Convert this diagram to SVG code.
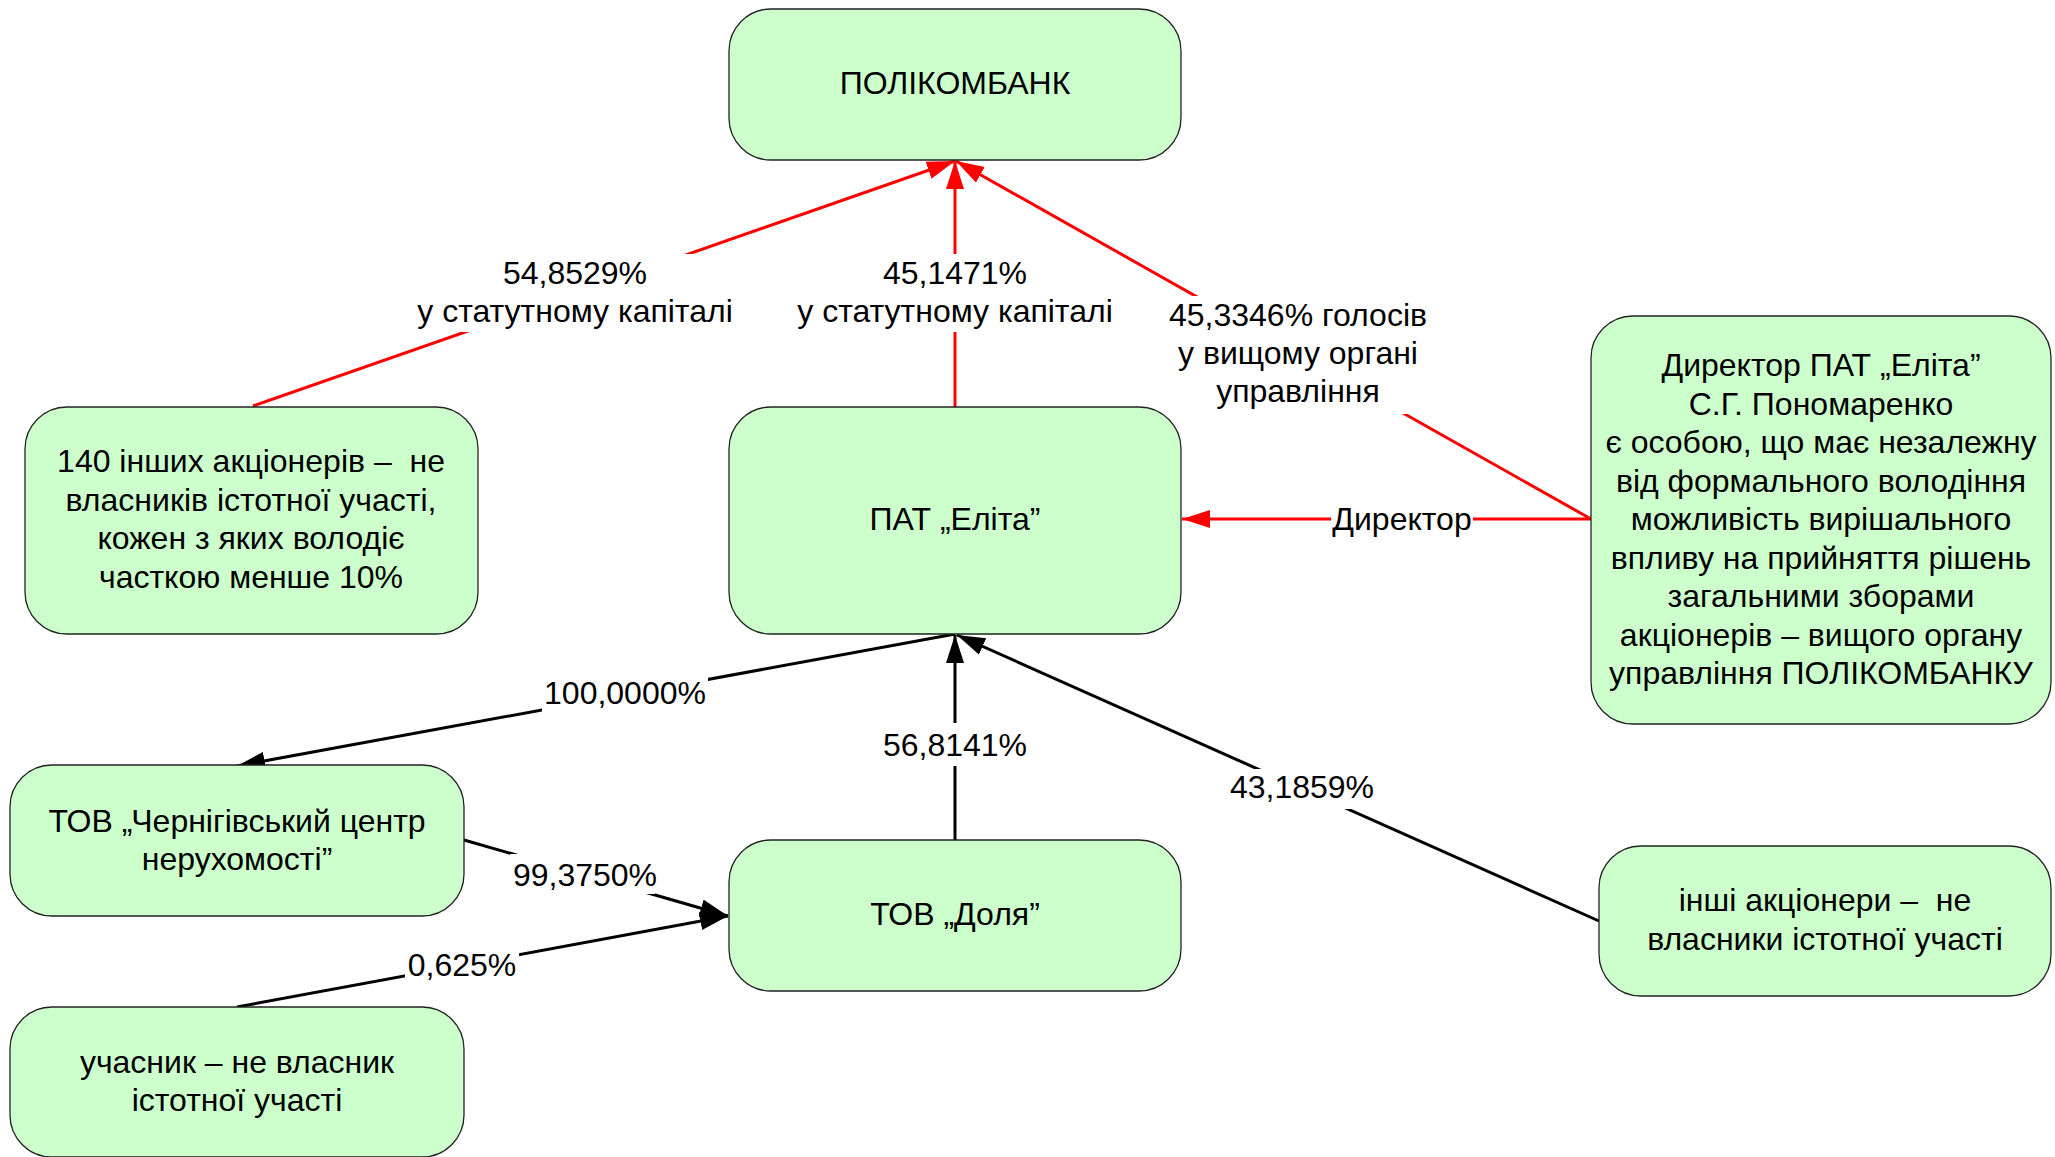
<svg xmlns="http://www.w3.org/2000/svg" width="2055" height="1157" viewBox="0 0 2055 1157">
<style>
.box{fill:#CCFFCC;stroke:#222;stroke-width:1.3}
text{font-family:"Liberation Sans",Arial,sans-serif;font-size:32px;fill:#000;text-anchor:middle;white-space:pre}
.red{stroke:#FF0000;stroke-width:3;fill:none}
.blk{stroke:#000;stroke-width:3;fill:none}
.lbg{fill:#fff}
</style>
<defs>
<marker id="ar" markerUnits="userSpaceOnUse" markerWidth="30" markerHeight="20" refX="28" refY="9" orient="auto" viewBox="0 0 30 20"><path d="M0,0 L28,9 L0,18 z" fill="#FF0000"/></marker>
<marker id="ab" markerUnits="userSpaceOnUse" markerWidth="30" markerHeight="20" refX="28" refY="9" orient="auto" viewBox="0 0 30 20"><path d="M0,0 L28,9 L0,18 z" fill="#000"/></marker>
</defs>
<rect width="2055" height="1157" fill="#fff"/>
<g id="connectors">
<line class="red" x1="253" y1="406" x2="955" y2="161" marker-end="url(#ar)"/>
<line class="red" x1="955" y1="407" x2="955" y2="161" marker-end="url(#ar)"/>
<line class="red" x1="1591" y1="519" x2="956" y2="161" marker-end="url(#ar)"/>
<line class="red" x1="1591" y1="519" x2="1182" y2="519" marker-end="url(#ar)"/>
<line class="blk" x1="955" y1="634" x2="237" y2="766" marker-end="url(#ab)"/>
<line class="blk" x1="955" y1="840" x2="955" y2="635" marker-end="url(#ab)"/>
<line class="blk" x1="1599" y1="921" x2="957" y2="635" marker-end="url(#ab)"/>
<line class="blk" x1="464" y1="840" x2="728" y2="916" marker-end="url(#ab)"/>
<line class="blk" x1="237" y1="1007" x2="728" y2="916" marker-end="url(#ab)"/>
</g>
<g id="node-polikombank"><rect class="box" x="729" y="9" width="452" height="151" rx="42"/><text x="955" y="94">ПОЛІКОМБАНК</text></g>
<g id="node-elita"><rect class="box" x="729" y="407" width="452" height="227" rx="42"/><text x="955" y="530">ПАТ „Еліта”</text></g>
<g id="node-140"><rect class="box" x="25" y="407" width="453" height="227" rx="42"/>
<text x="251" y="472">140 інших акціонерів –  не</text>
<text x="251" y="510.5">власників істотної участі,</text>
<text x="251" y="549">кожен з яких володіє</text>
<text x="251" y="588">часткою менше 10%</text></g>
<g id="node-director"><rect class="box" x="1591" y="316" width="460" height="408" rx="42"/>
<text x="1821" y="376">Директор ПАТ „Еліта”</text>
<text x="1821" y="414.5">С.Г. Пономаренко</text>
<text x="1821" y="453">є особою, що має незалежну</text>
<text x="1821" y="491.5">від формального володіння</text>
<text x="1821" y="530">можливість вирішального</text>
<text x="1821" y="568.5">впливу на прийняття рішень</text>
<text x="1821" y="607">загальними зборами</text>
<text x="1821" y="645.5">акціонерів – вищого органу</text>
<text x="1821" y="684">управління ПОЛІКОМБАНКУ</text></g>
<g id="node-chernihiv"><rect class="box" x="10" y="765" width="454" height="151" rx="42"/>
<text x="237" y="832">ТОВ „Чернігівський центр</text>
<text x="237" y="870">нерухомості”</text></g>
<g id="node-dolya"><rect class="box" x="729" y="840" width="452" height="151" rx="42"/><text x="955" y="925">ТОВ „Доля”</text></g>
<g id="node-uchasnyk"><rect class="box" x="10" y="1007" width="454" height="150" rx="42"/>
<text x="237" y="1073">учасник – не власник</text>
<text x="237" y="1111">істотної участі</text></g>
<g id="node-inshi"><rect class="box" x="1599" y="846" width="452" height="150" rx="42"/>
<text x="1825" y="911">інші акціонери –  не</text>
<text x="1825" y="950">власники істотної участі</text></g>
<g id="labels">
<rect class="lbg" x="414" y="254" width="322" height="78"/>
<text x="575" y="284">54,8529%</text><text x="575" y="322">у статутному капіталі</text>
<rect class="lbg" x="794" y="254" width="322" height="78"/>
<text x="955" y="284">45,1471%</text><text x="955" y="322">у статутному капіталі</text>
<rect class="lbg" x="1164" y="296" width="268" height="118"/>
<text x="1298" y="326">45,3346% голосів</text><text x="1298" y="364">у вищому органі</text><text x="1298" y="402">управління</text>
<rect class="lbg" x="1331" y="504" width="142" height="30"/>
<text x="1402" y="530">Директор</text>
<rect class="lbg" x="542" y="676" width="166" height="36"/>
<text x="625" y="704">100,0000%</text>
<rect class="lbg" x="882" y="723" width="146" height="43"/>
<text x="955" y="756">56,8141%</text>
<rect class="lbg" x="1228" y="769" width="148" height="40"/>
<text x="1302" y="798">43,1859%</text>
<rect class="lbg" x="510" y="854" width="145" height="40"/>
<text x="585" y="886">99,3750%</text>
<rect class="lbg" x="405" y="950" width="114" height="30"/>
<text x="462" y="976">0,625%</text>
</g>
</svg>
